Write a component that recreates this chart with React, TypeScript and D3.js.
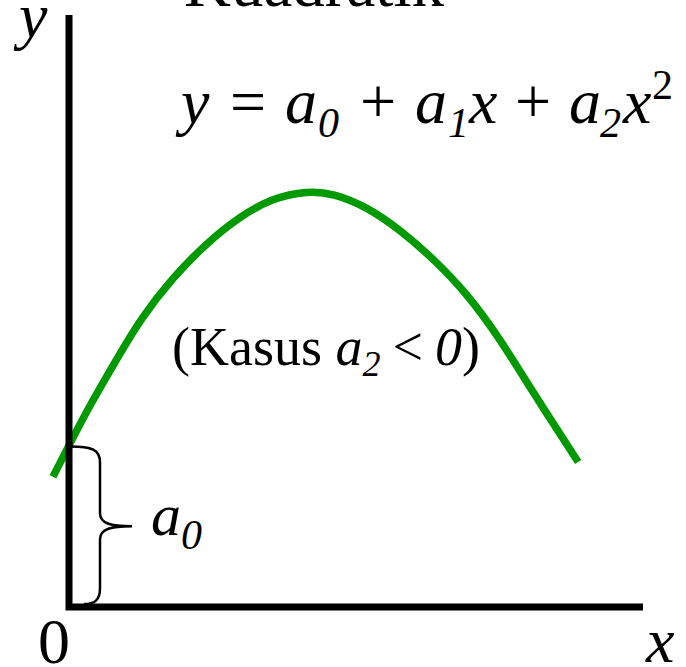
import React from "react";
import * as d3 from "d3";

// Curve samples (data units, x: 0..10 along axis, y: 0..10 up axis)
const curveX = [-0.28, 0.02, 0.37, 0.84, 1.24, 1.81, 2.4, 2.98, 3.55, 4.15, 4.6, 5.19, 5.77, 6.34, 6.93, 7.51, 8.08, 8.87];
const curveY = [2.2, 2.77, 3.42, 4.2, 4.86, 5.57, 6.15, 6.6, 6.91, 7.03, 6.99, 6.76, 6.37, 5.89, 5.3, 4.53, 3.63, 2.45];
const interceptA0 = [2.71];
const titleText = ["Kuadratik"];

const W = 686;
const H = 667;
const FONT = "'Liberation Serif', 'Times New Roman', Times, serif";

export default function App() {
  const x = d3.scaleLinear().domain([0, 10]).range([69, 643]);
  const y = d3.scaleLinear().domain([0, 10]).range([607, 15]);
  const pts: [number, number][] = curveX.map((v, i) => [x(v), y(curveY[i])]);
  const line = d3.line().curve(d3.curveBasis)(pts) || "";

  const T = y(interceptA0[0]);
  const B = y(0) - 3;
  const M = (T + B) / 2 + 1;
  const xL = x(0) + 1;
  const xV = x(0) + 31;
  const xTip = x(0) + 63;
  const brace = `M${xL},${T} C${xL + 22},${T} ${xV},${T + 3} ${xV},${T + 16} L${xV},${M - 13} C${xV},${M - 3} ${xV + 10},${M} ${xTip},${M} C${xV + 10},${M} ${xV},${M + 3} ${xV},${M + 13} L${xV},${B - 16} C${xV},${B - 3} ${xV - 6},${B} ${xL + 14},${B}`;

  const axisPath = `M${x(0)},${y(10)} L${x(0)},${y(0)} L${x(10)},${y(0)}`;

  const eqBase = 123;
  const subDy = 14;

  return (
    <svg width={W} height={H} style={{ position: "absolute", left: 0, top: 0, background: "#fff" }} fontFamily={FONT}>
      <rect x={0} y={0} width={W} height={H} fill="#fff" />
      <text x={314} y={6} fontSize={65} textAnchor="middle" fill="#000">{titleText[0]}</text>

      <text x={19} y={37} fontSize={64} fontStyle="italic" fill="#000">y</text>

      <text y={eqBase} fontSize={64} fill="#000">
        <tspan x={181} fontStyle="italic">y</tspan>
        <tspan x={230}>=</tspan>
        <tspan x={285} fontStyle="italic">a</tspan>
        <tspan x={318} fontStyle="italic" fontSize={42} dy={subDy}>0</tspan>
        <tspan x={360} dy={-subDy}>+</tspan>
        <tspan x={415} fontStyle="italic">a</tspan>
        <tspan x={448} fontStyle="italic" fontSize={42} dy={subDy}>1</tspan>
        <tspan x={469} fontStyle="italic" dy={-subDy}>x</tspan>
        <tspan x={515}>+</tspan>
        <tspan x={569} fontStyle="italic">a</tspan>
        <tspan x={600} fontStyle="italic" fontSize={42} dy={subDy}>2</tspan>
        <tspan x={623} fontStyle="italic" dy={-subDy}>x</tspan>
        <tspan x={652} fontSize={42} dy={-24}>2</tspan>
      </text>

      <text x={172} y={365} fontSize={54} fill="#000">
        <tspan>(Kasus </tspan>
        <tspan fontStyle="italic">a</tspan>
        <tspan fontStyle="italic" fontSize={36} dy={11}>2</tspan>
        <tspan dy={-11} dx={12}>&lt;</tspan>
        <tspan dx={12} fontStyle="italic">0</tspan>
        <tspan>)</tspan>
      </text>

      <path d={line} fill="none" stroke="#009900" strokeWidth={7.5} />

      <path d={axisPath} fill="none" stroke="#000" strokeWidth={7} strokeLinejoin="miter" />

      <path d={brace} fill="none" stroke="#000" strokeWidth={2.5} />

      <text x={151} y={535} fontSize={60} fill="#000">
        <tspan fontStyle="italic">a</tspan>
        <tspan fontStyle="italic" fontSize={42} dy={14}>0</tspan>
      </text>

      <text x={38} y={663} fontSize={64} fill="#000">0</text>
      <text x={646} y={662} fontSize={64} fontStyle="italic" fill="#000">x</text>
    </svg>
  );
}
